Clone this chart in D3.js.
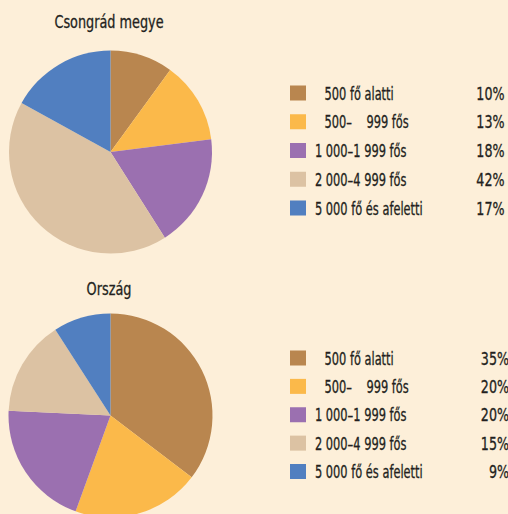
<!DOCTYPE html>
<meta charset="utf-8">
<html>
<head>
  <style>
    body { margin: 0; background: #fdefd9; }
    svg { display: block; }
    text { font-family: 'DejaVu Sans Condensed', 'DejaVu Sans', sans-serif; fill: #231f20; stroke: #231f20; stroke-width: 0.3px; }
    .title { font-size: 17.4px; }
    .legend text { font-size: 17.6px; }
  </style>
</head>
<body>
<svg width="508" height="514"></svg>
<script src="https://cdn.jsdelivr.net/npm/d3@7"></script>
<script>
// categories shared by both pies
var categories = [
  "\u2007\u2009500 fő alatti",
  "\u2007\u2009500–\u2007\u2007999 fős",
  "1 000–1 999 fős",
  "2 000–4 999 fős",
  "5 000 fő és afeletti"
];
var colors = ["#b9864f", "#fbb94a", "#9b70b0", "#dcc2a3", "#517fc0"];

var csongradValues = [10, 13, 18, 42, 17];
var orszagValues = [35, 20, 20, 15, 9];

var titles = ["Csongrád megye", "Ország"];

var svg = d3.select("svg");

var color = d3.scaleOrdinal().domain(categories).range(colors);

var pie = d3.pie().sort(null);
var arc = d3.arc().innerRadius(0);

// the original uses a condensed face, squeeze the text horizontally
function squeeze(x, y, s) {
  return "translate(" + x + "," + y + ") scale(" + s + ",1)";
}

// one block per pie: title, pie, legend
function drawBlock(values, title, titleY, cy, r, legendTop, legendBottom, pctRight) {
  var g = svg.append("g");

  g.append("text")
      .attr("class", "title")
      .attr("transform", squeeze(109, titleY, 0.82))
      .attr("text-anchor", "middle")
      .text(title);

  var p = g.append("g")
      .attr("transform", "translate(110.5," + cy + ")");

  p.selectAll("path")
    .data(pie(values))
    .enter().append("path")
      .attr("d", arc.outerRadius(r))
      .attr("fill", function(d, i) { return color(categories[i]); });

  // y = text baseline of each legend row
  var y = d3.scalePoint()
      .domain(categories)
      .range([legendTop, legendBottom]);

  var leg = g.append("g").attr("class", "legend");
  var row = leg.selectAll("g")
    .data(categories)
    .enter().append("g")
      .attr("transform", function(d) { return "translate(0," + y(d) + ")"; });

  row.append("rect")
      .attr("x", 290)
      .attr("y", -14)
      .attr("width", 16)
      .attr("height", 15)
      .attr("fill", function(d) { return color(d); });

  row.append("text")
      .attr("transform", squeeze(315, 0, 0.72))
      .text(function(d) { return d; });

  row.append("text")
      .attr("transform", squeeze(pctRight, 0, 0.8))
      .attr("text-anchor", "end")
      .text(function(d, i) { return values[i] + "%"; });
}

drawBlock(csongradValues, titles[0], 27.5, 152, 101.5, 99.5, 214.5, 504.5);
drawBlock(orszagValues, titles[1], 295, 415.5, 102, 364.5, 478, 509);
</script>
</body>
</html>
